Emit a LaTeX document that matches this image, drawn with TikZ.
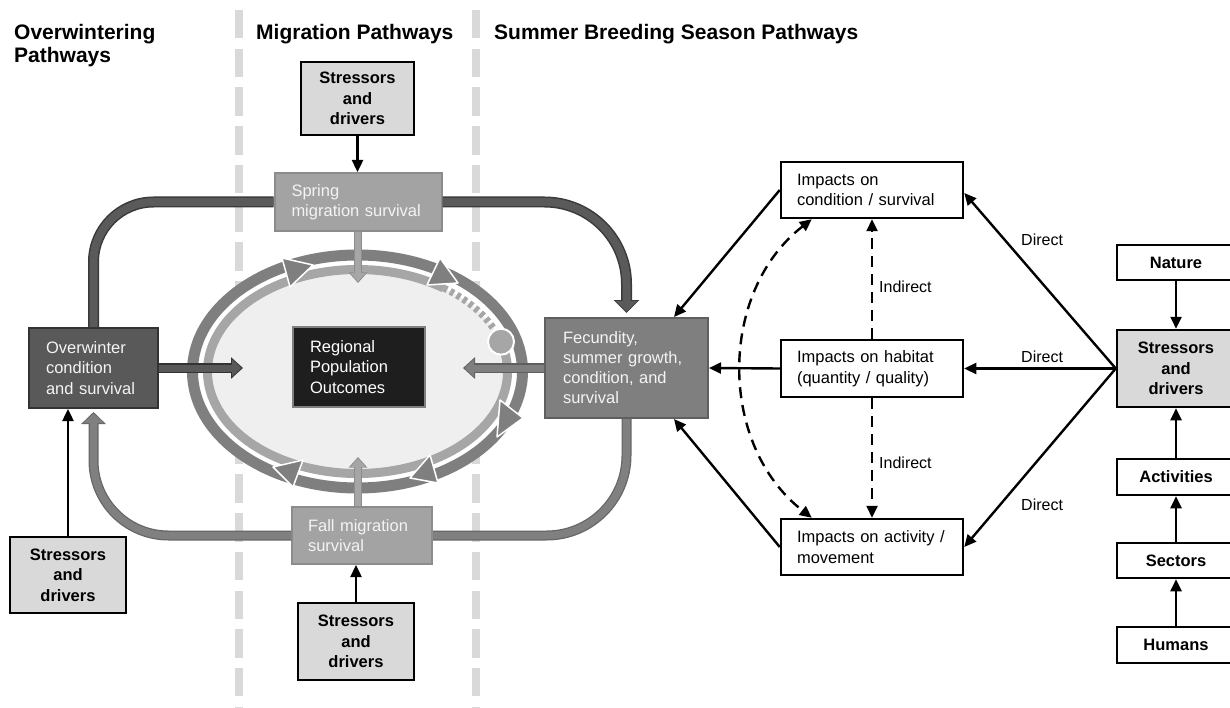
\documentclass[tikz,border=0pt]{standalone}
\usepackage{fontspec}
\setmainfont{Liberation Sans}
\usetikzlibrary{arrows.meta,calc}
\definecolor{dashgray}{HTML}{D9D9D9}
\definecolor{loopdark}{HTML}{5A5A5A}
\definecolor{loopdarkedge}{HTML}{3A3A3A}
\definecolor{looplight}{HTML}{808080}
\definecolor{looplightedge}{HTML}{666666}
\definecolor{ringout}{HTML}{7F7F7F}
\definecolor{ringin}{HTML}{A6A6A6}
\definecolor{ellfill}{HTML}{EFEFEF}
\definecolor{migfill}{HTML}{A3A3A3}
\definecolor{migdraw}{HTML}{8C8C8C}
\definecolor{fecfill}{HTML}{7F7F7F}
\definecolor{fecdraw}{HTML}{5F5F5F}
\definecolor{overfill}{HTML}{595959}
\definecolor{overdraw}{HTML}{333333}
\definecolor{regfill}{HTML}{1E1E1E}
\definecolor{regdraw}{HTML}{808080}
\definecolor{stressfill}{HTML}{D9D9D9}
\definecolor{lighttext}{HTML}{F4F4F4}
\begin{document}
\begin{tikzpicture}[x=1pt,y=-1pt,
  hdr/.style={font=\fontsize{21}{22.5}\selectfont\bfseries, inner sep=0pt},
  sz/.style 2 args={minimum width=#1pt, minimum height=#2pt},
  stressbox/.style={draw=black, line width=2.5pt, fill=stressfill, align=center,
    font=\fontsize{16.5}{20.5}\selectfont\bfseries, inner sep=0pt},
  plainbox/.style={draw=black, line width=2.5pt, fill=white, align=center,
    font=\fontsize{16.5}{20.5}\selectfont\bfseries, inner sep=0pt},
  impbox/.style={draw=black, line width=2.5pt, fill=white, align=left,
    font=\fontsize{16.5}{20.5}\selectfont, inner xsep=16pt, inner ysep=0pt, text width=150pt},
  migbox/.style={draw=migdraw, line width=2pt, fill=migfill, text=lighttext, align=left,
    font=\fontsize{16.5}{20.5}\selectfont, inner xsep=17pt, inner ysep=0pt},
  lbl/.style={font=\fontsize{16}{20}\selectfont, inner sep=0pt, anchor=west},
  conn/.style={line width=2.4pt, -{Triangle[length=12pt,width=11pt]}},
  dashconn/.style={conn, dash pattern=on 11pt off 7pt},
  tri/.style={fill=ringout, draw=white, line width=1.5pt, line join=round}
]
\useasboundingbox (0,0) rectangle (1230,708);
\clip (0,0) rectangle (1230,708);
\fill[white] (0,0) rectangle (1230,708);

% section separators
\draw[dashgray, line width=8pt, dash pattern=on 28.5pt off 10.2pt] (239,10) -- (239,708);
\draw[dashgray, line width=8pt, dash pattern=on 28.5pt off 10.2pt] (476,10) -- (476,708);

% headers
\node[hdr, anchor=north west, align=left] (hOver) at (14,24.5) {Overwintering\\Pathways};
\node[hdr, anchor=base west] (hMig) at (256,40) {Migration Pathways};
\node[hdr, anchor=base west] (hSum) at (494,40) {Summer Breeding Season Pathways};

% left / migration nodes
\node[stressbox, sz={113}{73}] (stTop) at (357.5,98.5) {Stressors\\and\\drivers};
\node[migbox, sz={167}{58}, text width=133pt] (spring) at (358,202) {Spring\\migration survival};
\node[migbox, sz={140}{57}, text width=108pt, inner xsep=16pt] (fall) at (362,535.5) {Fall migration\\survival};
\node[stressbox, sz={116}{77}] (stFall) at (356,641.5) {Stressors\\and\\drivers};
\node[stressbox, sz={116}{76}] (stLeft) at (68,575) {Stressors\\and\\drivers};
\node[draw=overdraw, line width=2pt, fill=overfill, text=lighttext, align=left,
  font=\fontsize{16.5}{20.5}\selectfont, inner xsep=17pt, inner ysep=0pt, text width=95pt,
  sz={129}{80}] (over) at (93.5,368) {Overwinter\\condition\\and survival};
\node[draw=fecdraw, line width=2pt, fill=fecfill, text=lighttext, align=left,
  font=\fontsize{16.5}{20}\selectfont, inner xsep=18pt, inner ysep=0pt, text width=127pt,
  sz={163}{100}] (fec) at (626.5,368) {Fecundity,\\summer growth,\\condition, and\\survival};

% loops (drawn twice for an outline)
\draw[loopdarkedge, line width=11pt, rounded corners=60pt] (over.north) -- (over.north |- spring.west) -- (spring.west);
\draw[loopdark, line width=8pt, rounded corners=60pt] (over.north) -- (over.north |- spring.west) -- (spring.west);
\draw[loopdarkedge, line width=11pt, rounded corners=82pt, -{Triangle[length=13pt,width=25pt]}, shorten >=4pt]
  (spring.east) -- (spring.east -| fec.north) -- (fec.north);
\draw[loopdark, line width=8pt, rounded corners=82pt, -{Triangle[length=10.5pt,width=21pt]}, shorten >=5.5pt]
  (spring.east) -- (spring.east -| fec.north) -- (fec.north);
\draw[looplightedge, line width=10pt, rounded corners=75pt, -{Triangle[length=12pt,width=24pt]}, shorten >=3pt]
  (fall.west) -- (fall.west -| over.south) -- (over.south);
\draw[looplight, line width=7.5pt, rounded corners=75pt, -{Triangle[length=9.5pt,width=20pt]}, shorten >=4.5pt]
  (fall.west) -- (fall.west -| over.south) -- (over.south);
\draw[looplightedge, line width=10pt, rounded corners=80pt]
  (fall.east) -- (fall.east -| fec.south) -- (fec.south);
\draw[looplight, line width=7.5pt, rounded corners=80pt]
  (fall.east) -- (fall.east -| fec.south) -- (fec.south);

% central ellipse
\fill[white] (357.5,371.5) ellipse [x radius=166pt, y radius=118pt];
\draw[ringout, line width=11pt] (357.5,371.5) ellipse [x radius=165pt, y radius=116.5pt];
\fill[ellfill] (357.5,371.5) ellipse [x radius=150pt, y radius=102pt];
\draw[ringin, line width=9pt] (357.5,371.5) ++(17:150pt and 102pt) arc[start angle=17, end angle=-305, x radius=150pt, y radius=102pt];
\draw[ringin, line width=7pt, dash pattern=on 4pt off 3.5pt] (357.5,371.5) ++(55:150pt and 102pt) arc[start angle=55, end angle=21, x radius=150pt, y radius=102pt];
\node[circle, fill=ringin, draw=white, line width=2pt, minimum size=26pt, inner sep=0pt] (dotEnd) at (501,341.7) {};

% cycle triangles
\filldraw[tri] (282,258) -- (313,265) -- (290,287) -- cycle;
\filldraw[tri] (440,258) -- (458,283) -- (427,285) -- cycle;
\filldraw[tri] (500,400) -- (523,418) -- (497,437) -- cycle;
\filldraw[tri] (410,478) -- (430,455) -- (438,483) -- cycle;
\filldraw[tri] (273,467) -- (303,460) -- (293,487) -- cycle;

\node[draw=regdraw, line width=1.5pt, fill=regfill, text=white, align=left,
  font=\fontsize{16.5}{20.5}\selectfont, inner xsep=17pt, inner ysep=0pt, text width=98pt,
  sz={132}{80}] (regional) at (359,367) {Regional\\Population\\Outcomes};

% arrows into the population ellipse
\coordinate (eTop) at (358,283);
\coordinate (eBot) at (358,457);
\coordinate (eLeft) at (243,368);
\coordinate (eRight) at (463,368);
\draw[overdraw, line width=10pt, -{Triangle[length=12pt,width=21pt]}] (over.east) -- (eLeft);
\draw[overfill, line width=7pt, -{Triangle[length=9.5pt,width=17pt]}, shorten >=1.5pt] (over.east) -- (eLeft);
\draw[fecdraw, line width=10pt, -{Triangle[length=12pt,width=21pt]}] (fec.west) -- (eRight);
\draw[fecfill, line width=7pt, -{Triangle[length=9.5pt,width=17pt]}, shorten >=1.5pt] (fec.west) -- (eRight);
\draw[migdraw, line width=8.5pt, -{Triangle[length=10.5pt,width=18pt]}] (spring.south) -- (eTop);
\draw[ringin, line width=6pt, -{Triangle[length=8.5pt,width=14.5pt]}, shorten >=1.3pt] (spring.south) -- (eTop);
\draw[migdraw, line width=8.5pt, -{Triangle[length=10.5pt,width=18pt]}] (fall.north -| eBot) -- (eBot);
\draw[ringin, line width=6pt, -{Triangle[length=8.5pt,width=14.5pt]}, shorten >=1.3pt] (fall.north -| eBot) -- (eBot);

% stressors into the migration / overwinter boxes
\draw[conn] (stTop.south) -- (spring.north -| stTop.south);
\draw[conn] (stFall.north) -- (fall.south -| stFall.north);
\draw[conn] (stLeft.north) -- (over.south -| stLeft.north);

% impacts
\node[impbox, sz={182}{56}] (cond) at (872,190) {Impacts on\\condition / survival};
\node[impbox, sz={182}{57}] (hab) at (872,368.5) {Impacts on habitat\\(quantity / quality)};
\node[impbox, sz={182}{56}] (act) at (872,547) {Impacts on activity /\\movement};

% right column
\node[plainbox, sz={118}{35}] (nature) at (1176,262.5) {Nature};
\node[stressbox, sz={118}{77}] (stRight) at (1176,368.5) {Stressors\\and\\drivers};
\node[plainbox, sz={118}{36}] (activities) at (1176,477) {Activities};
\node[plainbox, sz={118}{35}] (sectors) at (1176,560.5) {Sectors};
\node[plainbox, sz={118}{36}] (humans) at (1176,645) {Humans};

\draw[conn] (nature.south) -- (stRight.north);
\draw[conn] (activities.north) -- (stRight.south);
\draw[conn] (sectors.north) -- (activities.south);
\draw[conn] (humans.north) -- (sectors.south);

\draw[conn] (stRight.west) -- ($(cond.east)+(0,3)$);
\draw[conn] (stRight.west) -- (hab.east);
\draw[conn] (stRight.west) -- (act.east);
\node[lbl] (dir1) at (1021,240) {Direct};
\node[lbl] (dir2) at (1021,357) {Direct};
\node[lbl] (dir3) at (1021,505) {Direct};

\draw[conn] (cond.west) -- ($(fec.north east)+(-35,0)$);
\draw[conn] (hab.west) -- (fec.east);
\draw[conn] (act.west) -- ($(fec.south east)+(-35,0)$);

\draw[dashconn] (hab.north) -- (cond.south);
\draw[dashconn] (hab.south) -- (act.north);
\draw[dashconn, {Triangle[length=12pt,width=11pt]}-{Triangle[length=12pt,width=11pt]}]
  ($(cond.south west)+(32,0)$) .. controls (718,292) and (718,445) .. ($(act.north west)+(32,0)$);
\node[lbl] (ind1) at (879,287) {Indirect};
\node[lbl] (ind2) at (879,463) {Indirect};
\end{tikzpicture}
\end{document}
